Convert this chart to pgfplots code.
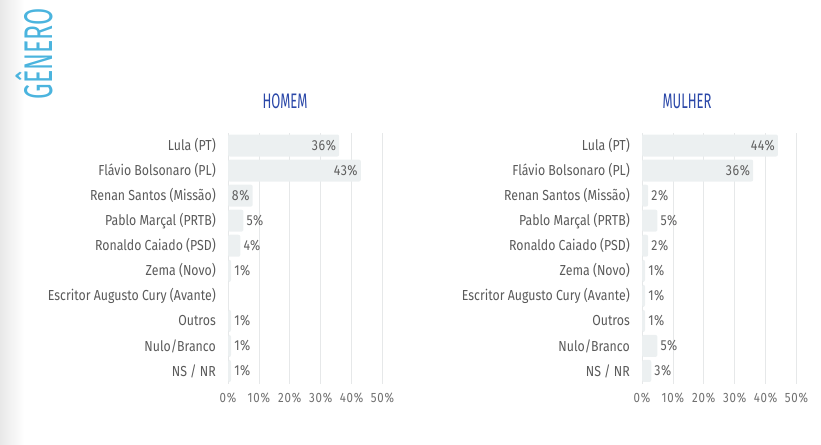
\documentclass[border=0pt]{standalone}
\usepackage{fontspec}
\setmainfont{Fira Sans}[FakeStretch=0.85]
\newfontfamily\titlefont{Fira Sans}[FakeStretch=0.62]
\newfontfamily\tickfont{Fira Sans}[FakeStretch=0.85, LetterSpace=6]
\newfontfamily\valfont{Fira Sans}[FakeStretch=0.85, LetterSpace=4]
\usepackage{pgfplots}
\pgfplotsset{compat=1.18}
\definecolor{barc}{HTML}{ECF0F1}
\definecolor{gridc}{HTML}{E6E8E9}
\definecolor{labc}{HTML}{5A5A5A}
\definecolor{valc}{HTML}{606060}
\definecolor{tickc}{HTML}{707070}
\definecolor{titc}{HTML}{2A47A8}
\definecolor{genc}{HTML}{4BB4DE}
\pgfplotsset{
  panel/.style={
    anchor=south west, scale only axis, width=154.5pt, height=250.5pt,
    xmin=0, xmax=50, ymin=-0.5, ymax=9.5, y dir=reverse, enlargelimits=false,
    xbar, bar width=22pt, bar shift=0pt,
    axis line style={draw=none}, major tick length=0pt,
    xmajorgrids, grid style={gridc, line width=0.8pt},
    xtick={0,10,...,50},
    xticklabel={\pgfmathprintnumber{\tick}\%},
    xticklabel style={anchor=north, inner sep=0pt, yshift=-9pt, text=tickc, font=\tickfont\fontsize{13.5}{13.5}\selectfont},
    /pgf/number format/assume math mode=true,
    ytick={0,...,9},
    yticklabels={Lula (PT), Flávio Bolsonaro (PL), Renan Santos (Missão), Pablo Marçal (PRTB), Ronaldo Caiado (PSD), Zema (Novo), Escritor Augusto Cury (Avante), Outros, Nulo/Branco, NS / NR},
    yticklabel style={anchor=east, inner sep=0pt, xshift=-12pt, text=labc, font=\fontsize{14.5}{14.5}\selectfont},
    point meta=x,
    nodes near coords={\pgfmathprintnumber{\pgfplotspointmeta}\%},
    nodes near coords style={text=valc, font=\valfont\fontsize{14.5}{14.5}\selectfont, inner sep=3pt},
  },
  inside/.style={draw=none, fill=barc, rounded corners=2pt, nodes near coords style={anchor=east}},
  outside/.style={draw=none, fill=barc, rounded corners=2pt, nodes near coords style={anchor=west}},
}
\begin{document}
\begin{tikzpicture}
\path[use as bounding box] (0pt,0pt) rectangle (821pt,444pt);
\shade[left color=black!9, right color=white] (0pt,0pt) rectangle (24pt,444pt);
\node[rotate=90, text=genc, font=\titlefont\fontsize{40}{40}\selectfont, inner sep=0pt] at (34pt,390pt) {GÊNERO};
\node[text=titc, font=\titlefont\fontsize{21}{21}\selectfont, inner sep=0pt] at (285pt,343pt) {HOMEM};
\node[text=titc, font=\titlefont\fontsize{21}{21}\selectfont, inner sep=0pt] at (687pt,343pt) {MULHER};

\begin{axis}[panel, at={(228pt,60.5pt)}]
\addplot[inside] coordinates {(36,0) (43,1) (8,2)};
\addplot[outside] coordinates {(5,3) (4,4) (1,5) (1,7) (1,8) (1,9)};
\end{axis}

\begin{axis}[panel, at={(642pt,60.5pt)}]
\addplot[inside] coordinates {(44,0) (36,1)};
\addplot[outside] coordinates {(2,2) (5,3) (2,4) (1,5) (1,6) (1,7) (5,8) (3,9)};
\end{axis}
\end{tikzpicture}
\end{document}
